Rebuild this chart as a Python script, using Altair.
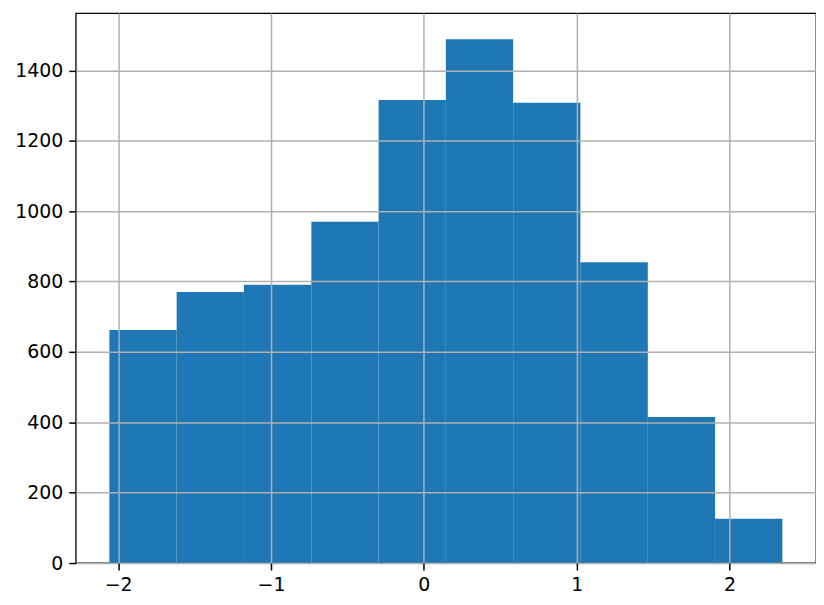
import altair as alt
import pandas as pd

bin_start = [-2.057, -1.617, -1.177, -0.736, -0.296, 0.144, 0.584, 1.024, 1.465, 1.905]
bin_end = [-1.617, -1.177, -0.736, -0.296, 0.144, 0.584, 1.024, 1.465, 1.905, 2.345]
counts = [662, 770, 791, 970, 1316, 1489, 1308, 855, 415, 126]

x_ticks = [-2, -1, 0, 1, 2]
y_ticks = [0, 200, 400, 600, 800, 1000, 1200, 1400]

df = pd.DataFrame({"start": bin_start, "end": bin_end, "count": counts})

axis_common = dict(
    grid=True,
    gridColor="#b0b0b0",
    gridWidth=1.5,
    domain=False,
    tickColor="#000000",
    tickSize=7,
    tickWidth=1.5,
    labelFont="DejaVu Sans",
    labelFontSize=19,
    labelColor="#000000",
    title=None,
    zindex=1,
)

chart = alt.Chart(df).mark_rect(color="#1f77b4").encode(
    x=alt.X(
        "start:Q",
        scale=alt.Scale(domain=[-2.277, 2.565], nice=False, zero=False),
        axis=alt.Axis(
            values=x_ticks,
            labelPadding=6,
            labelExpr="datum.value < 0 ? '\u2212' + abs(datum.value) : '' + datum.value",
            **axis_common,
        ),
    ),
    x2="end:Q",
    y=alt.Y(
        "count:Q",
        scale=alt.Scale(domain=[0, 1563], nice=False),
        axis=alt.Axis(values=y_ticks, labelPadding=6, format="d", **axis_common),
    ),
    y2=alt.datum(0),
).properties(
    width=743,
    height=552,
    autosize=alt.AutoSizeParams(type="none"),
    padding={"left": 68, "top": 4, "right": 0, "bottom": 40},
    background="#ffffff",
).configure_view(
    stroke="#000000",
    strokeWidth=1.3,
)

chart.save("out.html", embed_options={"renderer": "svg", "actions": False})
